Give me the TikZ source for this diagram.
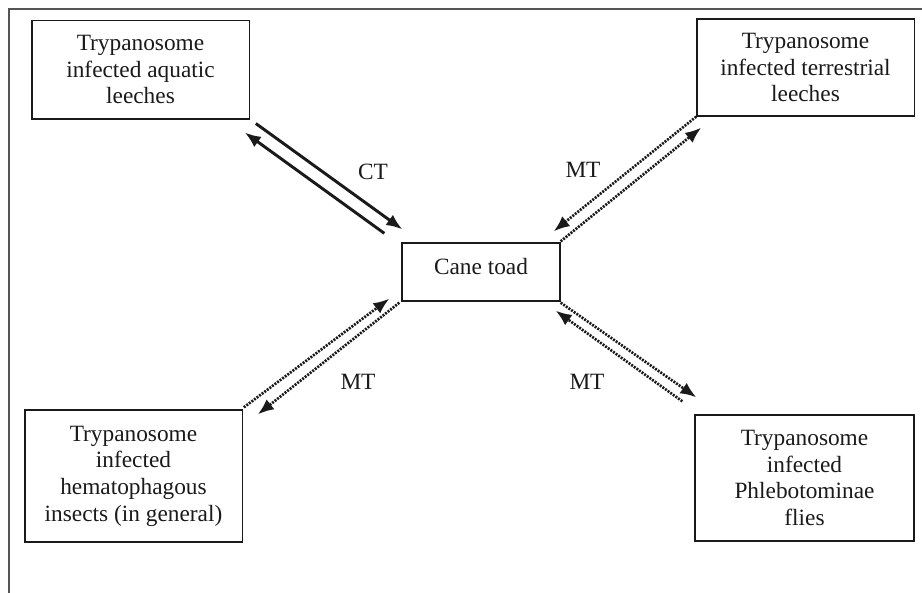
\documentclass[tikz,border=0pt]{standalone}
\usepackage{fontspec}
\setmainfont{Liberation Serif}
\usetikzlibrary{arrows.meta, positioning}
\usepackage{xcolor}
\definecolor{ink}{HTML}{1A1A1A}
\definecolor{rule}{HTML}{555555}

\begin{document}
\begin{tikzpicture}[
    x=0.75pt, y=-0.75pt,
    host/.style={rectangle, draw=ink, line width=1pt, text=ink,
                 minimum width=163pt, minimum height=74pt,
                 font=\fontsize{17.5}{20}\selectfont, align=center, inner sep=2pt},
    toadbox/.style={host, minimum width=118.5pt, minimum height=43.5pt},
    lbl/.style={text=ink, font=\fontsize{17.5}{20}\selectfont},
    ct/.style={-{Latex[length=12pt, width=9.5pt]}, line width=2.2pt, color=ink},
    mt/.style={-{Latex[length=12pt, width=9.5pt]}, line width=2pt, color=ink,
               dash pattern=on 1.5pt off 0.9pt},
  ]
    \useasboundingbox (0,0) rectangle (922,593);

    % outer frame
    \draw[rule, line width=1.1pt] (922,9) -- (9,9) -- (9,593);

    \node[toadbox] (toad) at (481,272) {\raisebox{8pt}{Cane toad}};

    \node[host] (aqu) at (140.5,69.5) {Trypanosome\\ infected aquatic\\ leeches};
    \node[host, minimum height=72.75pt] (terr) at (805.5,67.5)
      {Trypanosome\\ infected terrestrial\\ leeches};
    \node[host, minimum height=99pt] (insect) at (133.5,476)
      {Trypanosome\\ infected\\ hematophagous\\ insects (in general)};
    \node[host, minimum width=164.25pt, minimum height=94.5pt] (fly) at (804.5,478)
      {Trypanosome\\ infected\\ Phlebotominae\\ flies};

    % CT link
    \draw[ct] ([shift={(6,4)}]aqu.south east) -- ([shift={(1,-13)}]toad.north west);
    \draw[ct] ([shift={(-17,-9)}]toad.north west) -- ([shift={(-5,13)}]aqu.south east);

    % MT links
    \draw[mt] (terr.south west) -- ([shift={(-7,-11)}]toad.north east);
    \draw[mt] ([shift={(0,-1)}]toad.north east) -- ([shift={(5,11)}]terr.south west);
    \draw[mt] ([shift={(1,-2)}]insect.north east) -- ([shift={(-12,-3)}]toad.south west);
    \draw[mt] ([shift={(-2,1)}]toad.south west) -- ([shift={(15,5)}]insect.north east);
    \draw[mt] ([shift={(0,1)}]toad.south east) -- ([shift={(2,-17)}]fly.north west);
    \draw[mt] ([shift={(-12,-13)}]fly.north west) -- ([shift={(-5,9)}]toad.south east);

    \node[lbl] (ctlbl) at (373,172) {CT};
    \node[lbl] (mtne) at (583,170) {MT};
    \node[lbl] (mtsw) at (358,382) {MT};
    \node[lbl] (mtse) at (587,382) {MT};
  \end{tikzpicture}
\end{document}
